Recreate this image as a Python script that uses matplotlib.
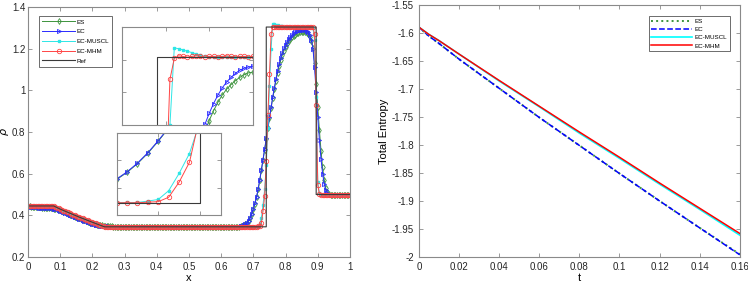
import numpy as np
import matplotlib
matplotlib.use('Agg')
import matplotlib.pyplot as plt
from matplotlib.ticker import FormatStrFormatter

plt.rcParams['font.family'] = ['Liberation Sans', 'DejaVu Sans']

# ---- density profile data (grid dx = 0.005) ----
x = np.linspace(0, 1, 201)

rare_sharp = [0.445] * 16 + [
    0.443, 0.440, 0.437, 0.433, 0.430, 0.427, 0.423, 0.420, 0.417, 0.414,
    0.410, 0.407, 0.404, 0.400, 0.397, 0.394, 0.391, 0.388, 0.385, 0.382,
    0.379, 0.376, 0.373, 0.370, 0.367, 0.364, 0.361, 0.358, 0.355, 0.352,
    0.349, 0.347, 0.346]

es_left = [
    0.445, 0.444, 0.442, 0.441, 0.440, 0.439, 0.439, 0.438, 0.438, 0.437,
    0.437, 0.436, 0.436, 0.435, 0.434, 0.433, 0.432, 0.431, 0.430, 0.427,
    0.424, 0.421, 0.417, 0.414, 0.411, 0.408, 0.404, 0.401, 0.398, 0.394,
    0.391, 0.388, 0.385, 0.382, 0.379, 0.376, 0.373, 0.370, 0.367, 0.364,
    0.362, 0.360, 0.358, 0.356, 0.354, 0.353, 0.352, 0.351, 0.350, 0.349,
    0.348, 0.347, 0.347, 0.346, 0.346, 0.345]
ec_left = [
    0.445, 0.443, 0.441, 0.440, 0.439, 0.438, 0.438, 0.437, 0.437, 0.437,
    0.436, 0.436, 0.435, 0.435, 0.434, 0.433, 0.432, 0.431, 0.430, 0.426,
    0.423, 0.420, 0.416, 0.413, 0.410, 0.407, 0.403, 0.400, 0.397, 0.393,
    0.390, 0.387, 0.384, 0.381, 0.378, 0.375, 0.372, 0.369, 0.366, 0.363,
    0.360, 0.358, 0.356, 0.354, 0.352, 0.351, 0.350, 0.349, 0.348, 0.347,
    0.347, 0.346, 0.346, 0.345, 0.345, 0.345]

es_right = [
    0.345, 0.346, 0.347, 0.349, 0.352, 0.357, 0.364, 0.374, 0.388, 0.406,
    0.430, 0.456, 0.488, 0.526, 0.570, 0.618, 0.666, 0.716, 0.767, 0.817,
    0.866, 0.915, 0.962, 1.006, 1.047, 1.084, 1.117, 1.146, 1.170, 1.190,
    1.207, 1.222, 1.235, 1.246, 1.255, 1.262, 1.268, 1.273, 1.277, 1.280,
    1.281, 1.281, 1.279, 1.275, 1.269, 1.258, 1.238, 1.205, 1.130, 1.030,
    0.920, 0.810, 0.710, 0.630, 0.570, 0.530, 0.510, 0.502]
ec_right = [
    0.345, 0.346, 0.347, 0.349, 0.352, 0.357, 0.364, 0.374, 0.388, 0.407,
    0.432, 0.458, 0.490, 0.528, 0.572, 0.620, 0.668, 0.718, 0.770, 0.820,
    0.870, 0.920, 0.968, 1.013, 1.055, 1.093, 1.127, 1.157, 1.181, 1.201,
    1.218, 1.233, 1.246, 1.257, 1.266, 1.273, 1.279, 1.284, 1.287, 1.289,
    1.290, 1.290, 1.288, 1.284, 1.278, 1.266, 1.244, 1.200, 1.110, 0.990,
    0.870, 0.760, 0.670, 0.600, 0.550, 0.520, 0.506, 0.501]

muscl_right = [
    0.346, 0.346, 0.346, 0.351, 0.357, 0.389, 0.452, 0.525, 0.640, 0.820,
    1.020, 1.200, 1.318, 1.317, 1.315, 1.313, 1.311, 1.309, 1.307, 1.305]
muscl_shock = [1.303, 1.300, 1.240, 0.970, 0.560, 0.505]

mhm_right = [0.345, 0.345, 0.345, 0.347, 0.349, 0.365, 0.420, 0.493, 0.660,
             0.880, 1.080, 1.270, 1.302, 1.306]
mhm_top = [1.305, 1.304, 1.305, 1.306, 1.305, 1.304, 1.305, 1.305, 1.304,
           1.305, 1.306, 1.305, 1.304, 1.305, 1.305, 1.304, 1.305, 1.306,
           1.305, 1.304, 1.305, 1.305, 1.306]
mhm_shock = [1.303, 1.270, 0.930, 0.545, 0.502]

rho_es = es_left + [0.345] * 74 + es_right + [0.5] * 13
rho_ec = ec_left + [0.345] * 74 + ec_right + [0.5] * 13
rho_muscl = rare_sharp + [0.345] * 91 + muscl_right + [1.304] * 16 + muscl_shock + [0.5] * 19
rho_mhm = rare_sharp + [0.345] * 91 + mhm_right + mhm_top + mhm_shock + [0.5] * 19

x_ref = [0, 0.08, 0.10, 0.12, 0.14, 0.16, 0.18, 0.20, 0.22, 0.238, 0.74, 0.74, 0.895, 0.895, 1.0]
rho_ref = [0.445, 0.445, 0.430, 0.417, 0.404, 0.391, 0.379, 0.367, 0.355, 0.345, 0.345, 1.304, 1.304, 0.5, 0.5]

# ---- total entropy data ----
t_ent = [0, 0.005, 0.01, 0.02, 0.04, 0.06, 0.08, 0.10, 0.12, 0.14, 0.16]
es_ent = [-1.590, -1.606, -1.619, -1.647, -1.699, -1.751, -1.801, -1.851, -1.900, -1.948, -1.995]
ec_ent = [-1.590, -1.606, -1.619, -1.647, -1.699, -1.751, -1.801, -1.851, -1.900, -1.948, -1.996]
muscl_ent = [-1.590, -1.603, -1.614, -1.638, -1.686, -1.732, -1.779, -1.824, -1.870, -1.915, -1.961]
mhm_ent = [-1.590, -1.603, -1.614, -1.638, -1.685, -1.731, -1.777, -1.822, -1.868, -1.913, -1.958]

green = '#3d933d'
edge = '#8a8a8a'
fs = 7


def style_axes(ax, labels=True):
    for s in ax.spines.values():
        s.set_color(edge)
        s.set_linewidth(0.8)
    ax.tick_params(direction='in', length=3, width=0.6, color=edge,
                   top=True, right=True, labelsize=fs, labelcolor='#262626')
    if not labels:
        ax.tick_params(labelbottom=False, labelleft=False)


def draw_rho(ax):
    ax.plot(x, rho_es, '-d', color=green, lw=0.7, ms=3, mfc='none', mew=0.6, label='ES')
    ax.plot(x, rho_ec, '->', color='#2a2aff', lw=0.7, ms=3, mfc='none', mew=0.6, label='EC')
    ax.plot(x, rho_muscl, '-s', color='#2ee6e6', lw=0.7, ms=1.5, label='EC-MUSCL')
    ax.plot(x, rho_mhm, '-o', color='#ff4545', lw=0.7, ms=3.2, mfc='none', mew=0.6, label='EC-MHM')
    ax.plot(x_ref, rho_ref, '-', color='#3a3a3a', lw=0.8, label='Ref')


fig = plt.figure(figsize=(7.48, 2.91), dpi=100, facecolor='white')

# left: density
ax1 = fig.add_axes([0.0374, 0.1168, 0.4305, 0.859])
draw_rho(ax1)
ax1.set_xlim(0, 1)
ax1.set_ylim(0.2, 1.4)
ax1.set_xticks(np.arange(0, 1.01, 0.1))
ax1.set_yticks(np.arange(0.2, 1.41, 0.2))
ax1.xaxis.set_major_formatter(FormatStrFormatter('%g'))
ax1.yaxis.set_major_formatter(FormatStrFormatter('%g'))
style_axes(ax1)
ax1.tick_params(axis='y', pad=2)
ax1.set_xlabel('x', fontsize=8, labelpad=1)
ax1.set_ylabel(r'$\rho$', fontsize=8)
ax1.yaxis.set_label_coords(-0.054, 0.5)
leg = ax1.legend(loc='upper left', bbox_to_anchor=(0.025, 0.976), fontsize=4.5,
                 fancybox=False, framealpha=1, edgecolor='#555555', handlelength=5.2,
                 borderpad=0.5, labelspacing=0.7, handletextpad=0.3)
leg.get_frame().set_linewidth(0.6)

# inset near the top of the contact
ins1 = fig.add_axes([0.163, 0.570, 0.175, 0.337])
draw_rho(ins1)
ins1.set_xlim(0.70, 0.85)
ins1.set_ylim(1.2, 1.35)
ins1.set_xticks([0.75, 0.80])
ins1.set_yticks([1.25, 1.30])
style_axes(ins1, labels=False)

# inset near the foot of the contact
ins2 = fig.add_axes([0.156, 0.261, 0.139, 0.282])
draw_rho(ins2)
ins2.set_xlim(0.70, 0.75)
ins2.set_ylim(0.3, 0.6)
ins2.set_xticks([0.72, 0.74])
ins2.set_yticks([0.4, 0.5])
style_axes(ins2, labels=False)

# right: total entropy
ax2 = fig.add_axes([0.560, 0.1168, 0.429, 0.867])
ax2.plot(t_ent, es_ent, ':', color=green, lw=1.4, label='ES')
ax2.plot(t_ent, ec_ent, '--', color='blue', lw=1.1, label='EC')
ax2.plot(t_ent, muscl_ent, '-', color='cyan', lw=1.2, label='EC-MUSCL')
ax2.plot(t_ent, mhm_ent, '-', color='#ff0000', lw=1.1, label='EC-MHM')
ax2.set_xlim(0, 0.16)
ax2.set_ylim(-2, -1.55)
ax2.set_xticks(np.arange(0, 0.161, 0.02))
ax2.set_yticks(np.arange(-2, -1.549, 0.05))
ax2.xaxis.set_major_formatter(FormatStrFormatter('%g'))
ax2.yaxis.set_major_formatter(FormatStrFormatter('%g'))
style_axes(ax2)
ax2.set_xlabel('t', fontsize=8, labelpad=1)
ax2.set_ylabel('Total Entropy', fontsize=8, labelpad=2)
leg2 = ax2.legend(loc='upper right', bbox_to_anchor=(0.978, 0.967), fontsize=4.5,
                  fancybox=False, framealpha=1, edgecolor='#555555', handlelength=6.5,
                  borderpad=0.4, labelspacing=0.45, handletextpad=0.4)
leg2.get_frame().set_linewidth(0.6)

fig.savefig('out.png', dpi=100, facecolor='white')
